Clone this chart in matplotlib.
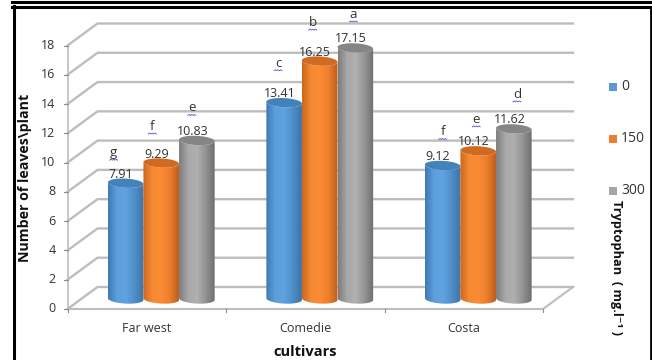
import numpy as np
import matplotlib
matplotlib.use("Agg")
import matplotlib.pyplot as plt
from matplotlib.colors import LinearSegmentedColormap
from matplotlib.patches import PathPatch, Polygon, Rectangle
from matplotlib.path import Path

cultivars = ["Far west", "Comedie", "Costa"]
doses = ["0", "150", "300"]
leaves_0 = [7.91, 13.41, 9.12]
leaves_150 = [9.29, 16.25, 10.12]
leaves_300 = [10.83, 17.15, 11.62]
letters_0 = ["g", "c", "f"]
letters_150 = ["f", "b", "e"]
letters_300 = ["e", "a", "d"]
y_ticks = [0, 2, 4, 6, 8, 10, 12, 14, 16, 18]

# side shading dark / light / dark, plus top cap colour
shades = [
    (["#3f7bb3", "#5c9fdd", "#5fa3e0", "#4f8ec8", "#3d74a6"], "#4482bb"),
    (["#cc6720", "#f58a33", "#fb8b35", "#ec7e2c", "#bd5f1d"], "#d06a20"),
    (["#7d7d7d", "#a8a8a8", "#b0b0b0", "#939393", "#6e6e6e"], "#858585"),
]
swatches = ["#5b9bd5", "#ed7d31", "#a5a5a5"]

W, H = 652, 360
plt.rcParams["font.family"] = ["Open Sans", "DejaVu Sans"]
fig = plt.figure(figsize=(W / 100, H / 100), dpi=100)

# axes span the front plane of the 3D floor
left, right, bottom, top = 67.5, 543.0, 309.0, 45.5
ax = fig.add_axes([left / W, 1 - bottom / H, (right - left) / W, (bottom - top) / H])
ax.set_xlim(0, 3)
ax.set_ylim(0, 18)
ax.axis("off")

px = 3 / (right - left)
py = 18 / (bottom - top)
depth_x, depth_y = 30 * px, 22 * py
wall = "#bdbdbd"

# back wall gridlines and the slanted side lines
for t in y_ticks:
    ax.plot([0, depth_x, 3 + depth_x], [t, t + depth_y, t + depth_y], color=wall, lw=1.7,
            clip_on=False, solid_joinstyle="miter", zorder=1)
    ax.plot([-3.5 * px, 0], [t, t], color="#8c8c8c", lw=0.8, clip_on=False)
    ax.text(-12 * px, t, str(t), ha="right", va="center", fontsize=9, color="#333333")
ax.plot([0, 3, 3 + depth_x], [0, 0, depth_y], color=wall, lw=1.5, clip_on=False, zorder=1)
ax.plot([0, 0], [0, 18], color=wall, lw=1.2, clip_on=False, zorder=1)
for i in range(4):
    ax.plot([i, i], [0, -3 * py], color="#8c8c8c", lw=0.8, clip_on=False)
for i, name in enumerate(cultivars):
    ax.text(i + 0.5, -19.5 * py, name, ha="center", va="center", fontsize=9, color="#333333")


def cylinder(xc, value, colors, cap, zorder):
    hw = 17.8 * px
    base = 10 * py
    ry = 4.6 * py
    tilt = -0.05 * py / px
    a = np.linspace(0, np.pi, 50)
    ex = xc - hw * np.cos(a)
    lift = tilt * (ex - xc)
    lower = np.column_stack([ex, base - ry * np.sin(a) + lift])
    upper = np.column_stack([ex[::-1], base + value - ry * np.sin(a)[::-1] + lift[::-1]])
    cmap = LinearSegmentedColormap.from_list("side", colors)
    grad = np.linspace(0, 1, 64).reshape(1, -1)
    im = ax.imshow(grad, extent=[xc - hw, xc + hw, 0, base + value + ry],
                   cmap=cmap, aspect="auto", zorder=zorder)
    clip = PathPatch(Path(np.vstack([lower, upper])), transform=ax.transData, fc="none", ec="none")
    ax.add_patch(clip)
    im.set_clip_path(clip)
    full = np.linspace(0, 2 * np.pi, 80)
    cap_x = xc + hw * np.cos(full)
    cap_y = base + value + ry * np.sin(full) + tilt * (cap_x - xc)
    ax.add_patch(Polygon(np.column_stack([cap_x, cap_y]), closed=True, fc=cap, ec="none",
                         zorder=zorder + 0.5, clip_on=False))


def squiggle(xc, y):
    xs = xc + np.array([-4, -2.7, -1.3, 0, 1.3, 2.7, 4]) * px
    ys = y + np.array([0, 1, 0, 1, 0, 1, 0]) * py
    ax.plot(xs, ys, color="#5555cc", lw=0.6, clip_on=False, zorder=8)


groups = [leaves_0, leaves_150, leaves_300]
tags = [letters_0, letters_150, letters_300]
# letter placement relative to its bar, in pixels (dose, then cultivar)
letter_dx = [[-12, -6, 0], [-9, -7, -2], [-5, -2, 3]]
letter_dy = [[21.5, 30.5, 24.5], [27.5, 29.5, 22.5], [23.5, 24.5, 25.5]]
step = 35.6 * px
for s, (values, labels) in enumerate(zip(groups, tags)):
    for i, v in enumerate(values):
        xc = i + 0.5 + 14.5 * px + (s - 1) * step
        cylinder(xc, v, shades[s][0], shades[s][1], 3 + s)
        value_y = v + 10 * py + 9 * py
        ax.text(xc - 4.5 * px, value_y, f"{v:g}", ha="center", va="center",
                fontsize=9, color="#333333", zorder=9, clip_on=False)
        lx = xc + letter_dx[s][i] * px
        ly = value_y + letter_dy[s][i] * py
        ax.text(lx, ly, labels[i], ha="center", va="center", fontsize=9.5,
                color="#333333", zorder=9, clip_on=False)
        squiggle(lx, ly - 7.5 * py)

ax.set_xlim(0, 3)
ax.set_ylim(0, 18)

# axis titles and legend are placed in figure pixels
fig.text(25 / W, 1 - 178 / H, "Number of leaves\\plant", rotation=90, ha="center", va="center",
         fontsize=10.2, fontweight="bold", color="#111111")
fig.text(305 / W, 1 - 352 / H, "cultivars", ha="center", va="center", fontsize=10.5,
         fontweight="bold", color="#111111")
fig.text(617 / W, 1 - 268 / H, "Tryptophan  ( mg.l\u207b\u00b9 )", rotation=270, ha="center",
         va="center", fontsize=9.2, fontweight="bold", color="#111111")
for label, col, ypx in zip(doses, swatches, [87, 139, 191]):
    fig.add_artist(Rectangle((609 / W, 1 - (ypx + 4) / H), 8 / W, 8 / H, fc=col, ec="none",
                             transform=fig.transFigure))
    fig.text(621 / W, 1 - ypx / H, label, ha="left", va="center", fontsize=10, color="#333333")

# double black border of the figure box
border = fig.add_axes([0, 0, 1, 1], zorder=-1)
border.set_xlim(0, W)
border.set_ylim(H, 0)
border.axis("off")
border.plot([12, W], [1.5, 1.5], color="black", lw=2.2)
border.plot([12, W], [7, 7], color="black", lw=2.2)
border.plot([13.5, 13.5], [6, H], color="black", lw=2.2)
border.plot([650.5, 650.5], [7, H], color="black", lw=2.0)

fig.savefig("out.png", dpi=100)
